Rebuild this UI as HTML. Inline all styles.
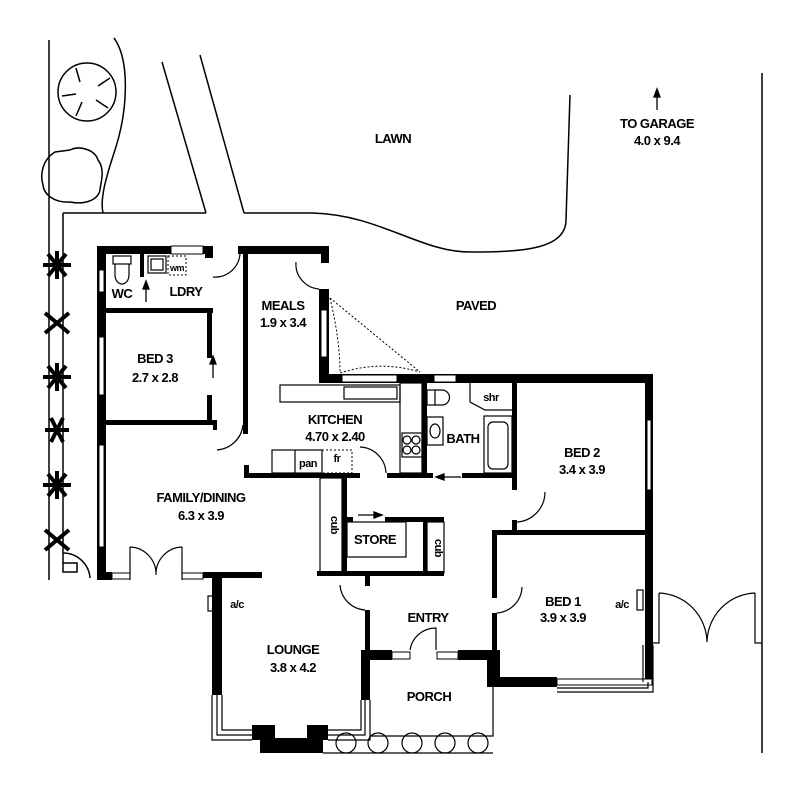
<!DOCTYPE html>
<html><head><meta charset="utf-8"><style>
html,body{margin:0;padding:0;background:#fff;}
svg{display:block;}
text{font-family:"Liberation Sans",sans-serif;font-size:13px;font-weight:bold;fill:#000;text-anchor:middle;letter-spacing:-0.5px;}
</style></head><body>
<svg width="800" height="795" viewBox="0 0 800 795" xmlns="http://www.w3.org/2000/svg">
<g fill="none" stroke="#000" stroke-width="1.5">
<line x1="49" y1="40" x2="49" y2="580"/>
<line x1="63" y1="213" x2="63" y2="563"/>
<line x1="63" y1="213" x2="206" y2="213"/>
<line x1="162" y1="62" x2="206" y2="213"/>
<line x1="200" y1="55" x2="244" y2="213"/>
<path d="M244 213 L313 213 C380 215 420 252 470 252 C520 252 566 250 566 220 L570 95"/>
<path d="M114 38 C130 60 128 110 115 150 C105 180 100 200 103 213"/>
<line x1="762" y1="73" x2="762" y2="753"/>
<circle cx="87" cy="92" r="29"/>
<path d="M70 150 C80 145 95 150 98 160 C106 170 100 185 100 190 C98 200 85 205 70 202 C55 203 44 195 43 185 C40 175 42 160 55 152 Z"/>
<line x1="76" y1="68" x2="80" y2="82"/><line x1="110" y1="78" x2="98" y2="86"/><line x1="108" y1="108" x2="96" y2="100"/><line x1="76" y1="116" x2="82" y2="102"/><line x1="62" y1="96" x2="76" y2="94"/>
<path d="M63 553 A27 27 0 0 1 90 578"/>
<rect x="63" y="563" width="14" height="9"/>
</g>
<g fill="#000" stroke="#000" stroke-width="4">
<g transform="translate(57,265)"><line x1="-14" y1="0" x2="14" y2="0"/><line x1="-9" y1="-11" x2="9" y2="11"/><line x1="9" y1="-11" x2="-9" y2="11"/><line x1="0" y1="-14" x2="0" y2="14"/></g>
<g transform="translate(57,323)"><line x1="-12" y1="-10" x2="12" y2="10"/><line x1="12" y1="-10" x2="-12" y2="10"/></g>
<g transform="translate(57,377)"><line x1="-14" y1="0" x2="14" y2="0"/><line x1="-9" y1="-11" x2="9" y2="11"/><line x1="9" y1="-11" x2="-9" y2="11"/><line x1="0" y1="-14" x2="0" y2="14"/></g>
<g transform="translate(57,430)"><line x1="-12" y1="0" x2="12" y2="0"/><line x1="-6" y1="-12" x2="6" y2="12"/><line x1="6" y1="-12" x2="-6" y2="12"/></g>
<g transform="translate(57,485)"><line x1="-14" y1="0" x2="14" y2="0"/><line x1="-9" y1="-11" x2="9" y2="11"/><line x1="9" y1="-11" x2="-9" y2="11"/><line x1="0" y1="-14" x2="0" y2="14"/></g>
<g transform="translate(57,540)"><line x1="-12" y1="-10" x2="12" y2="10"/><line x1="12" y1="-10" x2="-12" y2="10"/></g>
</g>
<g fill="#000">
<rect x="97" y="246" width="116" height="8"/>
<rect x="205" y="246" width="8" height="12"/>
<rect x="238" y="246" width="91" height="8"/>
<rect x="321" y="246" width="8" height="17"/>
<rect x="243" y="254" width="5" height="180"/>
<rect x="97" y="246" width="9" height="334"/>
<rect x="140" y="254" width="4" height="23"/>
<rect x="106" y="308" width="107" height="5"/>
<rect x="207" y="308" width="5" height="50"/>
<rect x="207" y="395" width="5" height="30"/>
<rect x="97" y="420" width="116" height="5"/>
<rect x="213" y="420" width="4" height="10"/>
<rect x="319" y="289" width="10" height="94"/>
<rect x="319" y="374" width="333" height="9"/>
<rect x="645" y="374" width="8" height="308"/>
<rect x="422" y="383" width="5" height="94"/>
<rect x="512" y="383" width="5" height="107"/>
<rect x="512" y="520" width="5" height="12"/>
<rect x="492" y="530" width="161" height="5"/>
<rect x="492" y="530" width="5" height="68"/>
<rect x="492" y="613" width="5" height="45"/>
<rect x="487" y="650" width="13" height="37"/>
<rect x="487" y="677" width="70" height="10"/>
<rect x="244" y="465" width="5" height="13"/>
<rect x="244" y="473" width="116" height="5"/>
<rect x="387" y="473" width="46" height="5"/>
<rect x="462" y="473" width="55" height="5"/>
<rect x="342" y="478" width="5" height="98"/>
<rect x="347" y="517" width="6" height="5"/>
<rect x="385" y="517" width="59" height="5"/>
<rect x="423" y="522" width="4" height="51"/>
<rect x="317" y="571" width="127" height="5"/>
<rect x="367" y="576" width="3" height="9"/>
<rect x="97" y="572" width="15" height="8"/>
<rect x="203" y="572" width="59" height="6"/>
<rect x="212" y="572" width="10" height="123"/>
<rect x="365" y="576" width="5" height="10"/>
<rect x="365" y="610" width="5" height="42"/>
<rect x="361" y="650" width="9" height="50"/>
<rect x="370" y="650" width="22" height="10"/>
<rect x="458" y="650" width="32" height="10"/>
<rect x="252" y="725" width="23" height="15"/>
<rect x="260" y="738" width="63" height="15"/>
<rect x="307" y="725" width="21" height="15"/>
</g>
<g fill="#fff" stroke="#000" stroke-width="1">
<rect x="171" y="246" width="32" height="8"/>
<rect x="99" y="270" width="5" height="22"/>
<rect x="99" y="337" width="5" height="58"/>
<rect x="99" y="445" width="5" height="102"/>
<rect x="321" y="310" width="6" height="47"/>
<rect x="342" y="375" width="55" height="7"/>
<rect x="434" y="375" width="22" height="7"/>
<rect x="647" y="420" width="4" height="70"/>
<rect x="112" y="573" width="18" height="6"/>
<rect x="182" y="573" width="21" height="6"/>
<rect x="392" y="652" width="18" height="7"/>
<rect x="437" y="652" width="21" height="7"/>
<rect x="557" y="679" width="95" height="6"/>
</g>
<g fill="none" stroke="#000" stroke-width="1.2">
<path d="M212 695 L212 740 L252 740 M217 695 L217 735 L252 735 M222 695 L222 730 L252 730"/>
<path d="M328 730 L361 730 L361 700 M328 735 L365 735 L365 700 M328 740 L370 740 L370 700"/>
<path d="M643 645 L643 682 M648 682 L648 688 L557 688 M653 645 L653 692 L557 692"/>
<path d="M659 593 L659 643 L653 643 M659 593 A50 50 0 0 1 707 642 M755 593 A50 50 0 0 0 707 642 M755 593 L755 643 L762 643"/>
<rect x="208" y="596" width="6" height="15"/>
<rect x="637" y="590" width="6" height="20"/>
<path d="M213 277 A25 25 0 0 0 240 253"/>
<path d="M296 262 A25 25 0 0 0 319 289"/>
<path d="M217 450 A28 28 0 0 0 243 425"/>
<path d="M360 447 A27 27 0 0 1 386 473"/>
<path d="M545 492 A30 30 0 0 1 517 522"/>
<path d="M522 587 A27 27 0 0 1 497 613"/>
<path d="M340 585 A27 27 0 0 0 365 610"/>
<path d="M410 650 A26 26 0 0 1 436 628 L436 650"/>
<path d="M130 547 L130 580 M130 547 A27 27 0 0 1 156 575 M182 547 A27 27 0 0 0 156 575 M182 547 L182 580"/>
<rect x="113" y="256" width="18" height="8"/><path d="M115 264 L115 275 A7 9 0 0 0 129 275 L129 264"/>
<rect x="148" y="256" width="18" height="17"/><rect x="151" y="259" width="12" height="11"/>
<rect x="280" y="385" width="120" height="17"/>
<rect x="344" y="387" width="53" height="12"/>
<rect x="400" y="383" width="22" height="90"/>
<rect x="402" y="433" width="20" height="24"/>
<circle cx="407" cy="440" r="4"/><circle cx="416" cy="440" r="4"/><circle cx="407" cy="450" r="4"/><circle cx="416" cy="450" r="4"/>
<rect x="272" y="450" width="50" height="23"/><line x1="295" y1="450" x2="295" y2="473"/>
<rect x="427" y="390" width="8" height="15"/><path d="M435 390 L442 390 A7 7 0 0 1 442 405 L435 405"/>
<rect x="427" y="417" width="16" height="28"/><ellipse cx="435" cy="431" rx="5" ry="7"/>
<path d="M470 383 L470 402 L485 410 L512 410"/>
<rect x="484" y="416" width="28" height="57"/><rect x="488" y="422" width="20" height="47" rx="5"/>
<rect x="320" y="478" width="22" height="95"/>
<rect x="347" y="522" width="59" height="35"/>
<rect x="427" y="522" width="17" height="51"/>
<path d="M370 736 L493 736 L493 687 M323 753 L493 753"/>
<circle cx="346" cy="743" r="10"/><circle cx="378" cy="743" r="10"/><circle cx="412" cy="743" r="10"/><circle cx="445" cy="743" r="10"/><circle cx="478" cy="743" r="10"/>
</g>
<g fill="none" stroke="#000" stroke-width="1" stroke-dasharray="2,2">
<rect x="168" y="256" width="18" height="19"/>
<rect x="322" y="450" width="30" height="23"/>
<path d="M330 298 L420 372 M330 298 Q340 340 340 373 Q380 360 420 372"/>
</g>
<g stroke="#000" stroke-width="1.3" fill="#000">
<line x1="657" y1="92" x2="657" y2="110"/><path d="M654 97 L657 89 L660 97 Z"/>
<line x1="146" y1="302" x2="146" y2="285"/><path d="M143 289 L146 281 L149 289 Z"/>
<line x1="213" y1="378" x2="213" y2="360"/><path d="M210 364 L213 356 L216 364 Z"/>
<line x1="461" y1="477" x2="440" y2="477"/><path d="M444 474 L436 477 L444 480 Z"/>
<line x1="358" y1="515" x2="378" y2="515"/><path d="M374 512 L382 515 L374 518 Z"/>
</g>
<g>
<text x="393" y="143">LAWN</text>
<text x="657" y="128">TO GARAGE</text>
<text x="657" y="145">4.0 x 9.4</text>
<text x="476" y="310">PAVED</text>
<text x="283" y="310">MEALS</text>
<text x="283" y="327">1.9 x 3.4</text>
<text x="122" y="298">WC</text>
<text x="186" y="296">LDRY</text>
<text x="177" y="271" style="font-size:9px">wm</text>
<text x="155" y="363">BED 3</text>
<text x="155" y="382">2.7 x 2.8</text>
<text x="335" y="424">KITCHEN</text>
<text x="335" y="441">4.70 x 2.40</text>
<text x="463" y="443">BATH</text>
<text x="491" y="401" style="font-size:11px">shr</text>
<text x="308" y="467" style="font-size:11px">pan</text>
<text x="337" y="462" style="font-size:11px">fr</text>
<text x="582" y="457">BED 2</text>
<text x="582" y="474">3.4 x 3.9</text>
<text x="201" y="502">FAMILY/DINING</text>
<text x="201" y="520">6.3 x 3.9</text>
<text x="375" y="544">STORE</text>
<text x="331" y="525" transform="rotate(90 331 525)" style="font-size:11px">cub</text>
<text x="435" y="548" transform="rotate(90 435 548)" style="font-size:11px">cub</text>
<text x="563" y="606">BED 1</text>
<text x="563" y="622">3.9 x 3.9</text>
<text x="428" y="622">ENTRY</text>
<text x="293" y="654">LOUNGE</text>
<text x="293" y="672">3.8 x 4.2</text>
<text x="429" y="701">PORCH</text>
<text x="237" y="608" style="font-size:11px">a/c</text>
<text x="622" y="608" style="font-size:11px">a/c</text>
</g>
</svg>
</body></html>
